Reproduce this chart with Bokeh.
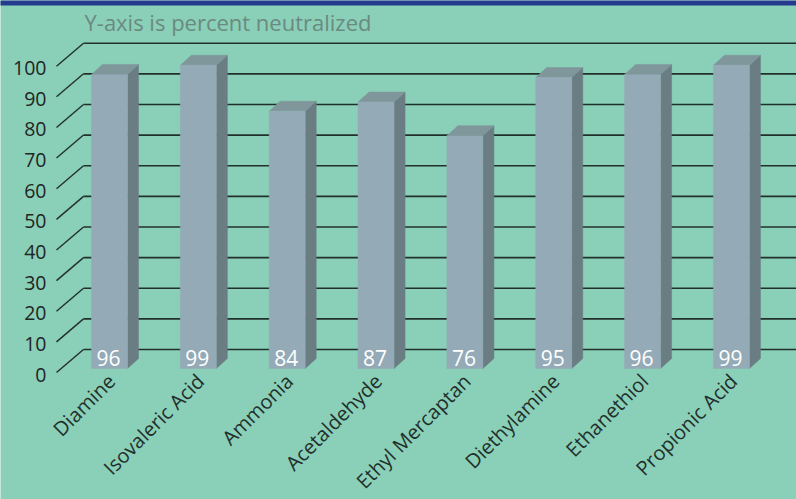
import math
from bokeh.plotting import figure
from bokeh.models import Range1d
from bokeh.embed import file_html
from bokeh.resources import INLINE
from bokeh.core.properties import value

# ---- data ----
categories = ["Diamine", "Isovaleric Acid", "Ammonia", "Acetaldehyde",
              "Ethyl Mercaptan", "Diethylamine", "Ethanethiol", "Propionic Acid"]
neutralized = [96, 99, 84, 87, 76, 95, 96, 99]
tick_values = [0, 10, 20, 30, 40, 50, 60, 70, 80, 90, 100]
title_text = "Y-axis is percent neutralized"

# ---- geometry (style constants) ----
PX = 88.85   # px per category step
PY = 3.063   # px per percent
W, H = 796, 499
x0_px, y0_px = 91.0, 368.0  # canvas position of bar 0 front-left bottom

bar_w = 36 / PX
side_dx, side_dy = 11 / PX, 10 / PY
wall_x = (83 - x0_px) / PX
wall_dy = 19 / PY
front_x = (56 - x0_px) / PX
front_dy = -4 / PY

FONT = "Open Sans"
BG = "#8acfb8"

x_lo, x_hi = -x0_px / PX, (W - x0_px) / PX
y_lo, y_hi = (y0_px - H) / PY, y0_px / PY

p = figure(width=W, height=H, output_backend="svg", toolbar_location=None,
           x_range=Range1d(x_lo, x_hi), y_range=Range1d(y_lo, y_hi),
           min_border=0, background_fill_color=BG, border_fill_color=BG)
p.axis.visible = False
p.grid.visible = False
p.outline_line_color = None

# top band
p.quad(left=[x_lo - 1], right=[x_hi + 1], bottom=[y_hi - 5 / PY], top=[y_hi + 1],
       fill_color="#243a8c", line_color=None)

# back wall gridlines + floor diagonals
gy = [t + wall_dy for t in tick_values]
p.segment(x0=[wall_x] * len(gy), y0=gy, x1=[x_hi + 1] * len(gy), y1=gy,
          line_color="#22302c", line_width=1.6)
p.segment(x0=[wall_x] * len(gy), y0=gy, x1=[front_x] * len(gy),
          y1=[t + front_dy for t in tick_values],
          line_color="#22302c", line_width=1.4)

# tick labels
p.text(x=[(46 - x0_px) / PX] * len(tick_values),
       y=[t + front_dy - 2 / PY for t in tick_values],
       text=[str(t) for t in tick_values],
       text_font=value(FONT), text_font_size="19.5px", text_color="#1f2623",
       text_align="right", text_baseline="middle")

# bars
xs = list(range(len(categories)))
lefts = [x for x in xs]
rights = [x + bar_w for x in xs]

side_x, side_y, top_x, top_y = [], [], [], []
for l, r, v in zip(lefts, rights, neutralized):
    side_x.append([r, r, r + side_dx, r + side_dx])
    side_y.append([0, v, v + side_dy, side_dy])
    top_x.append([l, r, r + side_dx, l + side_dx])
    top_y.append([v, v, v + side_dy, v + side_dy])

p.patches(xs=side_x, ys=side_y, fill_color="#6a7d82", line_color="#6a7d82", line_width=0.5)
p.patches(xs=top_x, ys=top_y, fill_color="#7f979b", line_color="#7f979b", line_width=0.5)
p.quad(left=lefts, right=rights, bottom=[0] * len(xs), top=neutralized,
       fill_color="#94abb7", line_color="#94abb7", line_width=0.5)

# value labels inside bars
p.text(x=[x + bar_w / 2 - 1 / PX for x in xs], y=[11 / PY] * len(xs),
       text=[str(v) for v in neutralized],
       text_font=value(FONT), text_font_size="21px", text_color="#ffffff",
       text_align="center", text_baseline="middle")

# category labels
p.text(x=[x + bar_w / 2 + 2 / PX for x in xs], y=[-9 / PY] * len(xs),
       text=categories, angle=math.pi / 4,
       text_font=value(FONT), text_font_size="20px", text_color="#22302c",
       text_align="right", text_baseline="middle")

# title
p.text(x=[(84 - x0_px) / PX], y=[(y0_px - 21) / PY], text=[title_text],
       text_font=value(FONT), text_font_size="22px", text_color="#6a8a80",
       text_align="left", text_baseline="middle")

open("out.html", "w").write(file_html(p, INLINE))
